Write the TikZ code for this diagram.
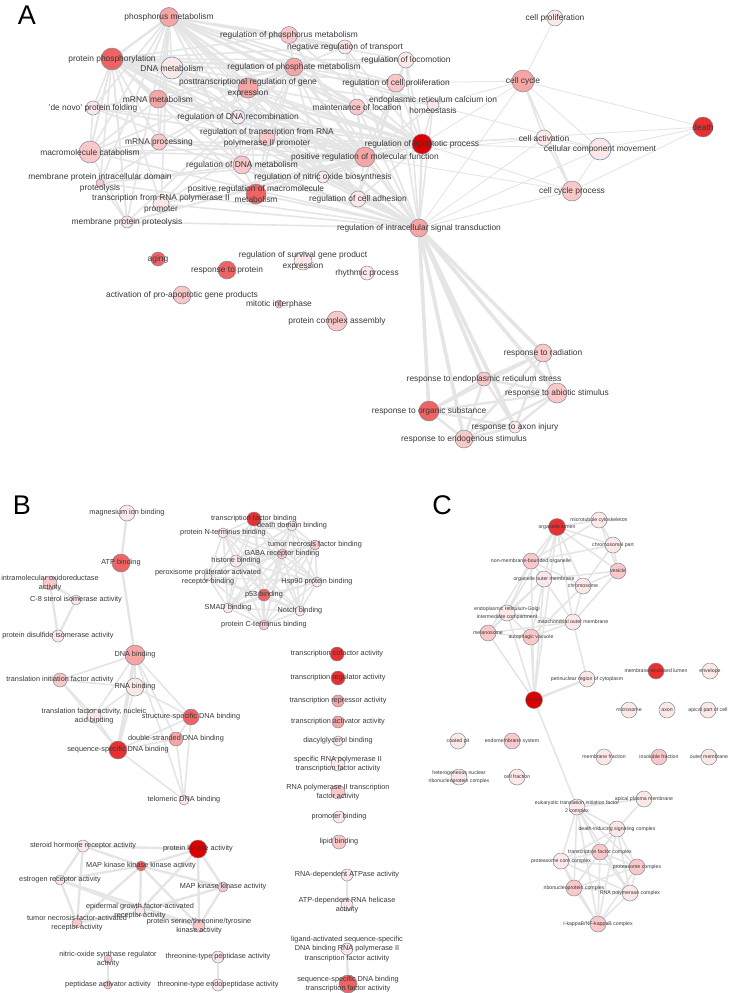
\documentclass[tikz,border=0pt]{standalone}
\usepackage{fontspec}
\setmainfont{Liberation Sans}
\usetikzlibrary{backgrounds}

\definecolor{rim}{RGB}{128,140,155}
\definecolor{rimblue}{RGB}{95,130,175}
\definecolor{txt}{RGB}{55,55,55}
\definecolor{lnkgray}{RGB}{229,229,229}
\definecolor{pinkA}{RGB}{253,232,232}
\definecolor{pinkB}{RGB}{250,200,200}
\definecolor{pinkC}{RGB}{246,165,165}
\definecolor{pinkD}{RGB}{238,100,100}
\definecolor{pinkE}{RGB}{232,48,48}
\definecolor{pinkF}{RGB}{222,0,0}

\tikzset{
  gn/.style={circle, draw=rim, line width=0.5pt, inner sep=0pt},
  bluerim/.style={draw=rimblue},
  lv0/.style={fill=pinkA},
  lv1/.style={fill=pinkB},
  lv2/.style={fill=pinkC},
  lv3/.style={fill=pinkD},
  lv4/.style={fill=pinkE},
  lv5/.style={fill=pinkF},
  lbA/.style={font=\fontsize{8.4}{10.5}\selectfont, text=txt, align=center, inner sep=0pt},
  lbB/.style={font=\fontsize{7.3}{9.5}\selectfont, text=txt, align=center, inner sep=0pt},
  lbC/.style={font=\fontsize{5.2}{8}\selectfont, text=txt, align=center, inner sep=0pt},
  lnk/.style={draw=lnkgray, line width=1.6pt},
  lnkthin/.style={lnk, line width=0.9pt},
  lnkmid/.style={lnk, line width=2.4pt},
  lnkthick/.style={lnk, line width=3.6pt},
  paneltag/.style={font=\fontsize{27}{27}\selectfont, inner sep=0pt}
}

% every pair of a list of nodes
\newcommand{\fullmesh}[2]{%
  \foreach \na [count=\i] in {#2} {
    \foreach \nb [count=\j] in {#2} {
      \ifnum\i<\j \draw[#1] (\na) -- (\nb); \fi
    }
  }%
}

\begin{document}
\begin{tikzpicture}[x=1pt, y=-1pt]
\useasboundingbox (0,0) rectangle (732,993);

% ---------------- panel A ----------------
\node[paneltag] (tagA) at (27,15) {A};
\node[gn, lv2, minimum size=19pt, label={[lbA]center:phosphorus metabolism}] (phos) at (169,17) {};
\node[gn, lv1, minimum size=17pt, label={[lbA]center:regulation of phosphorus metabolism}] (regphos) at (289,35) {};
\node[gn, lv0, minimum size=14pt, label={[lbA]center:negative regulation of transport}] (negtrans) at (345,47) {};
\node[gn, lv3, minimum size=22pt, label={[lbA]center:protein phosphorylation}] (protphos) at (112,59) {};
\node[gn, lv0, bluerim, minimum size=22pt, label={[lbA]center:DNA metabolism}] (dnamet) at (172,68) {};
\node[gn, lv2, minimum size=18pt, label={[lbA]center:regulation of phosphate metabolism}] (regphate) at (294,67) {};
\node[gn, lv2, minimum size=20pt, label={[lbA]center:posttranscriptional regulation of gene\\expression}] (posttrans) at (248,88) {};
\node[gn, lv2, minimum size=18pt, label={[lbA]center:mRNA metabolism}] (mrnamet) at (158,99) {};
\node[gn, lv0, minimum size=14pt, label={[lbA]center:'de novo' protein folding}] (denovo) at (93,108) {};
\node[gn, lv0, bluerim, minimum size=14pt, label={[lbA]center:regulation of DNA recombination}] (regdnarec) at (238,117) {};
\node[gn, lv1, minimum size=16pt, label={[lbA]center:regulation of transcription from RNA\\polymerase II promoter}] (regtrans) at (267,138) {};
\node[gn, lv1, minimum size=16pt, label={[lbA]center:mRNA processing}] (mrnaproc) at (159,142) {};
\node[gn, lv1, minimum size=22pt, label={[lbA]center:macromolecule catabolism}] (macrocat) at (90,152) {};
\node[gn, lv1, minimum size=18pt, label={[lbA]center:regulation of DNA metabolism}] (regdnamet) at (242,165) {};
\node[gn, lv1, minimum size=8pt, label={[lbA]center:membrane protein intracellular domain\\proteolysis}] (memintra) at (100,183) {};
\node[gn, lv3, minimum size=20pt, label={[lbA]center:positive regulation of macromolecule\\metabolism}] (posmacro) at (256,194) {};
\node[gn, lv0, minimum size=16pt, label={[lbA]center:transcription from RNA polymerase II\\promoter}] (transpol) at (161,204) {};
\node[gn, lv0, minimum size=12pt, label={[lbA]center:membrane protein proteolysis}] (memprot) at (127,222) {};
\node[gn, lv3, minimum size=14pt, label={[lbA]center:aging}] (aging) at (158,259) {};
\node[gn, lv3, minimum size=18pt, label={[lbA]center:response to protein}] (resprot) at (227,270) {};
\node[gn, lv0, minimum size=18pt, label={[lbA]center:regulation of survival gene product\\expression}] (regsurv) at (303,261) {};
\node[gn, lv1, minimum size=18pt, label={[lbA]center:activation of pro-apoptotic gene products}] (actpro) at (182,295) {};
\node[gn, lv1, minimum size=8pt, label={[lbA]center:mitotic interphase}] (mitint) at (279,304) {};
\node[gn, lv1, minimum size=20pt, label={[lbA]center:protein complex assembly}] (protcomp) at (337,321) {};
\node[gn, lv0, minimum size=14pt, label={[lbA]center:rhythmic process}] (rhythm) at (367,273) {};
\node[gn, lv0, minimum size=16pt, label={[lbA]center:cell proliferation}] (cellprolif) at (555,18) {};
\node[gn, lv0, minimum size=16pt, label={[lbA]center:regulation of locomotion}] (regloc) at (406,60) {};
\node[gn, lv1, minimum size=18pt, label={[lbA]center:regulation of cell proliferation}] (regprolif) at (396,83) {};
\node[gn, lv2, minimum size=22pt, label={[lbA]center:cell cycle}] (cellcycle) at (523,81) {};
\node[gn, lv0, minimum size=12pt, label={[lbA]center:endoplasmic reticulum calcium ion\\homeostasis}] (erca) at (433,105) {};
\node[gn, lv1, minimum size=16pt, label={[lbA]center:maintenance of location}] (mainloc) at (357,107) {};
\node[gn, lv4, minimum size=20pt, label={[lbA]center:death}] (death) at (703,127) {};
\node[gn, lv0, minimum size=16pt, label={[lbA]center:cell activation}] (cellact) at (544,138) {};
\node[gn, lv5, minimum size=20pt, label={[lbA]center:regulation of apoptotic process}] (regapop) at (422,144) {};
\node[gn, lv0, bluerim, minimum size=22pt, label={[lbA]center:cellular component movement}] (cellmove) at (600,149) {};
\node[gn, lv2, minimum size=20pt, label={[lbA]center:positive regulation of molecular function}] (posmol) at (365,157) {};
\node[gn, lv0, bluerim, minimum size=12pt, label={[lbA]center:regulation of nitric oxide biosynthesis}] (regnitric) at (323,177) {};
\node[gn, lv0, minimum size=16pt, label={[lbA]center:regulation of cell adhesion}] (regadh) at (358,199) {};
\node[gn, lv1, minimum size=20pt, label={[lbA]center:cell cycle process}] (ccproc) at (572,191) {};
\node[gn, lv2, minimum size=18pt, label={[lbA]center:regulation of intracellular signal transduction}] (regsig) at (419,228) {};
\node[gn, lv1, minimum size=18pt, label={[lbA]center:response to radiation}] (resrad) at (543,353) {};
\node[gn, lv1, minimum size=14pt, label={[lbA]center:response to endoplasmic reticulum stress}] (resER) at (484,379) {};
\node[gn, lv1, minimum size=20pt, label={[lbA]center:response to abiotic stimulus}] (resabio) at (557,393) {};
\node[gn, lv3, minimum size=20pt, label={[lbA]center:response to organic substance}] (resorg) at (429,411) {};
\node[gn, lv0, minimum size=12pt, label={[lbA]center:response to axon injury}] (resaxon) at (515,427) {};
\node[gn, lv1, minimum size=18pt, label={[lbA]center:response to endogenous stimulus}] (resendo) at (464,439) {};

% ---------------- panel B ----------------
\node[paneltag] (tagB) at (22,505) {B};
\node[gn, lv0, minimum size=16pt, label={[lbB]center:magnesium ion binding}] (magion) at (127,513) {};
\node[gn, lv3, minimum size=18pt, label={[lbB]center:ATP binding}] (atp) at (121,563) {};
\node[gn, lv1, minimum size=14pt, label={[lbB]center:intramolecular oxidoreductase\\activity}] (intramol) at (50,583) {};
\node[gn, lv0, minimum size=10pt, label={[lbB]center:C-8 sterol isomerase activity}] (csterol) at (76,600) {};
\node[gn, lv0, minimum size=12pt, label={[lbB]center:protein disulfide isomerase activity}] (pdi) at (58,636) {};
\node[gn, lv4, minimum size=14pt, label={[lbB]center:transcription factor binding}] (tfbind) at (254,519) {};
\node[gn, lv0, minimum size=10pt, label={[lbB]center:death domain binding}] (deathdom) at (292,526) {};
\node[gn, lv0, minimum size=10pt, label={[lbB]center:protein N-terminus binding}] (nterm) at (223,533) {};
\node[gn, lv1, minimum size=10pt, label={[lbB]center:tumor necrosis factor binding}] (tnfbind) at (315,545) {};
\node[gn, lv1, minimum size=10pt, label={[lbB]center:GABA receptor binding}] (gaba) at (282,554) {};
\node[gn, lv0, minimum size=12pt, label={[lbB]center:histone binding}] (histone) at (236,561) {};
\node[gn, lv0, minimum size=8pt, label={[lbB]center:peroxisome proliferator activated\\receptor binding}] (ppar) at (208,577) {};
\node[gn, lv0, minimum size=10pt, label={[lbB]center:Hsp90 protein binding}] (hsp90) at (317,582) {};
\node[gn, lv3, minimum size=12pt, label={[lbB]center:p53 binding}] (p53) at (264,595) {};
\node[gn, lv0, minimum size=10pt, label={[lbB]center:SMAD binding}] (smad) at (228,608) {};
\node[gn, lv0, minimum size=10pt, label={[lbB]center:Notch binding}] (notch) at (300,611) {};
\node[gn, lv1, minimum size=10pt, label={[lbB]center:protein C-terminus binding}] (cterm) at (264,625) {};
\node[gn, lv2, minimum size=20pt, label={[lbB]center:DNA binding}] (dnabind) at (135,655) {};
\node[gn, lv1, minimum size=14pt, label={[lbB]center:translation initiation factor activity}] (transinit) at (60,680) {};
\node[gn, lv0, minimum size=18pt, label={[lbB]center:RNA binding}] (rnabind) at (135,687) {};
\node[gn, lv0, minimum size=14pt, label={[lbB]center:{translation factor activity, nucleic\\acid binding}}] (transfac) at (94,716) {};
\node[gn, lv3, minimum size=16pt, label={[lbB]center:structure-specific DNA binding}] (structdna) at (191,717) {};
\node[gn, lv2, minimum size=14pt, label={[lbB]center:double-stranded DNA binding}] (dsdna) at (176,739) {};
\node[gn, lv4, minimum size=18pt, label={[lbB]center:sequence-specific DNA binding}] (seqdna) at (118,750) {};
\node[gn, lv0, minimum size=10pt, label={[lbB]center:telomeric DNA binding}] (telodna) at (184,800) {};
\node[gn, lv4, minimum size=14pt, label={[lbB]center:transcription cofactor activity}] (cofact) at (337,654) {};
\node[gn, lv4, minimum size=14pt, label={[lbB]center:transcription regulator activity}] (regact) at (338,678) {};
\node[gn, lv2, minimum size=12pt, label={[lbB]center:transcription repressor activity}] (repress) at (338,701) {};
\node[gn, lv2, minimum size=12pt, label={[lbB]center:transcription activator activity}] (activ) at (338,722) {};
\node[gn, lv0, minimum size=10pt, label={[lbB]center:diacylglycerol binding}] (diacyl) at (338,741) {};
\node[gn, lv0, minimum size=14pt, label={[lbB]center:specific RNA polymerase II\\transcription factor activity}] (specpol) at (338,764) {};
\node[gn, lv1, minimum size=14pt, label={[lbB]center:RNA polymerase II transcription\\factor activity}] (polII) at (338,792) {};
\node[gn, lv0, minimum size=12pt, label={[lbB]center:promoter binding}] (promoter) at (339,817) {};
\node[gn, lv1, minimum size=14pt, label={[lbB]center:lipid binding}] (lipid) at (339,842) {};
\node[gn, lv0, minimum size=12pt, label={[lbB]center:RNA-dependent ATPase activity}] (rnadep) at (347,875) {};
\node[gn, lv0, minimum size=12pt, label={[lbB]center:ATP-dependent RNA helicase\\activity}] (atpdep) at (347,905) {};
\node[gn, lv0, minimum size=12pt, label={[lbB]center:ligand-activated sequence-specific\\DNA binding RNA polymerase II\\transcription factor activity}] (ligand) at (347,949) {};
\node[gn, lv3, minimum size=18pt, label={[lbB]center:sequence-specific DNA binding\\transcription factor activity}] (seqtf) at (348,984) {};
\node[gn, lv0, minimum size=12pt, label={[lbB]center:steroid hormone receptor activity}] (steroid) at (83,846) {};
\node[gn, lv5, minimum size=18pt, label={[lbB]center:protein kinase activity}] (pkinase) at (198,849) {};
\node[gn, lv3, minimum size=10pt, label={[lbB]center:MAP kinase kinase kinase activity}] (mapkkk) at (141,866) {};
\node[gn, lv0, minimum size=10pt, label={[lbB]center:estrogen receptor activity}] (estrogen) at (60,880) {};
\node[gn, lv1, minimum size=10pt, label={[lbB]center:MAP kinase kinase activity}] (mapkk) at (223,887) {};
\node[gn, lv0, minimum size=10pt, label={[lbB]center:epidermal growth factor-activated\\receptor activity}] (egf) at (140,911) {};
\node[gn, lv1, minimum size=10pt, label={[lbB]center:tumor necrosis factor-activated\\receptor activity}] (tnfrec) at (77,923) {};
\node[gn, lv1, minimum size=12pt, label={[lbB]center:protein serine/threonine/tyrosine\\kinase activity}] (pser) at (199,926) {};
\node[gn, lv1, minimum size=8pt, label={[lbB]center:nitric-oxide synthase regulator\\activity}] (nitric) at (108,959) {};
\node[gn, lv1, minimum size=8pt, label={[lbB]center:peptidase activator activity}] (peptact) at (108,985) {};
\node[gn, lv0, minimum size=12pt, label={[lbB]center:threonine-type peptidase activity}] (thrpep) at (218,957) {};
\node[gn, lv0, minimum size=12pt, label={[lbB]center:threonine-type endopeptidase activity}] (threndo) at (218,985) {};

% ---------------- panel C ----------------
\node[paneltag] (tagC) at (442,505) {C};
\node[gn, lv4, minimum size=17pt, label={[lbC]center:organelle lumen}] (lumen) at (557,527) {};
\node[gn, lv0, minimum size=16pt, label={[lbC]center:microtubule cytoskeleton}] (microtub) at (599,520) {};
\node[gn, lv0, minimum size=16pt, label={[lbC]center:chromosomal part}] (chrompart) at (613,545) {};
\node[gn, lv1, minimum size=16pt, label={[lbC]center:non-membrane-bounded organelle}] (nonmem) at (531,561) {};
\node[gn, lv1, minimum size=16pt, label={[lbC]center:vesicle}] (vesicle) at (618,571) {};
\node[gn, lv0, minimum size=16pt, label={[lbC]center:organelle outer membrane}] (orgouter) at (544,579) {};
\node[gn, lv0, minimum size=16pt, label={[lbC]center:chromosome}] (chromosome) at (583,586) {};
\node[gn, lv0, minimum size=16pt, label={[lbC]center:endoplasmic reticulum-Golgi\\intermediate compartment}] (ergolgi) at (507,613) {};
\node[gn, lv0, minimum size=16pt, label={[lbC]center:mitochondrial outer membrane}] (mito) at (573,622) {};
\node[gn, lv1, minimum size=16pt, label={[lbC]center:melanosome}] (melano) at (488,633) {};
\node[gn, lv1, minimum size=16pt, label={[lbC]center:autophagic vacuole}] (autoph) at (531,637) {};
\node[gn, lv0, minimum size=16pt, label={[lbC]center:perinuclear region of cytoplasm}] (perinuc) at (587,679) {};
\node[gn, lv4, minimum size=16pt, label={[lbC]center:membrane-enclosed lumen}] (memlumen) at (656,671) {};
\node[gn, lv0, minimum size=16pt, label={[lbC]center:envelope}] (envelope) at (710,671) {};
\node[gn, lv5, minimum size=17pt, label={[lbC]center:cytosol}] (cytosol) at (534,700) {};
\node[gn, lv0, minimum size=16pt, label={[lbC]center:microsome}] (microsome) at (629,710) {};
\node[gn, lv0, minimum size=16pt, label={[lbC]center:axon}] (axon) at (667,710) {};
\node[gn, lv0, minimum size=16pt, label={[lbC]center:apical part of cell}] (apical) at (708,710) {};
\node[gn, lv0, minimum size=16pt, label={[lbC]center:coated pit}] (coated) at (458,741) {};
\node[gn, lv1, minimum size=16pt, label={[lbC]center:endomembrane system}] (endomem) at (512,741) {};
\node[gn, lv0, minimum size=16pt, label={[lbC]center:membrane fraction}] (memfrac) at (604,757) {};
\node[gn, lv1, minimum size=16pt, label={[lbC]center:insoluble fraction}] (insol) at (659,757) {};
\node[gn, lv0, minimum size=16pt, label={[lbC]center:outer membrane}] (outermem) at (709,757) {};
\node[gn, lv0, minimum size=16pt, label={[lbC]center:heterogeneous nuclear\\ribonucleoprotein complex}] (hnrnp) at (459,777) {};
\node[gn, lv0, minimum size=16pt, label={[lbC]center:cell fraction}] (cellfrac) at (517,777) {};
\node[gn, lv0, minimum size=16pt, label={[lbC]center:eukaryotic translation initiation factor\\2 complex}] (euk) at (577,807) {};
\node[gn, lv0, minimum size=16pt, label={[lbC]center:apical plasma membrane}] (apicalpm) at (644,799) {};
\node[gn, lv0, minimum size=16pt, label={[lbC]center:death-inducing signaling complex}] (disc) at (617,829) {};
\node[gn, lv1, minimum size=16pt, label={[lbC]center:transcription factor complex}] (tfcomp) at (600,852) {};
\node[gn, lv0, minimum size=16pt, label={[lbC]center:proteasome core complex}] (protcore) at (561,861) {};
\node[gn, lv1, minimum size=16pt, label={[lbC]center:proteasome complex}] (proteasome) at (637,867) {};
\node[gn, lv1, minimum size=16pt, label={[lbC]center:ribonucleoprotein complex}] (ribonuc) at (574,888) {};
\node[gn, lv0, minimum size=16pt, label={[lbC]center:RNA polymerase complex}] (rnapol) at (630,893) {};
\node[gn, lv1, minimum size=16pt, label={[lbC]center:I-kappaB/NF-kappaB complex}] (ikb) at (598,924) {};

\begin{scope}[on background layer]
% A: main cluster
\foreach \na in {regphos,negtrans,dnamet,posttrans,mrnamet,denovo,regdnarec,regtrans,mrnaproc,macrocat,regdnamet,memintra,posmacro,transpol,memprot,regloc,regprolif,erca,mainloc,regnitric,regadh}
  \foreach \nb in {phos,protphos,regphate,posmol,regsig,regapop}
    \draw[lnk] (\na) -- (\nb);
\fullmesh{lnkmid}{phos,protphos,regphate,posmol,regsig,regapop}
\foreach \na/\nb in {macrocat/mrnaproc,macrocat/mrnamet,macrocat/memprot,memprot/memintra,mrnamet/mrnaproc,regtrans/transpol,posttrans/regtrans,regdnarec/regdnamet,dnamet/regdnamet,dnamet/regdnarec,regphos/regphate,regphos/negtrans,regloc/regprolif,regloc/regadh,regprolif/regadh,posmacro/regtrans,posmacro/posttrans,denovo/macrocat,protphos/memprot,protphos/macrocat}
  \draw[lnk] (\na) -- (\nb);
% A: cell cycle side
\foreach \na/\nb in {cellcycle/cellprolif,cellcycle/regprolif,cellcycle/death,cellcycle/cellmove,cellcycle/regsig,cellcycle/regapop,cellcycle/erca,death/regapop,death/cellmove,death/ccproc,cellact/regapop,cellact/cellmove,cellact/regsig,cellmove/regapop,cellmove/erca,cellmove/ccproc,cellmove/regsig,ccproc/regsig,ccproc/regapop,ccproc/posmol,cellact/posmol}
  \draw[lnkthin] (\na) -- (\nb);
\draw[lnk] (cellcycle) -- (ccproc);
\draw[lnk] (cellcycle) -- (cellact);
\draw[lnk] (cellact) -- (ccproc);
% A: responses
\foreach \nb in {resrad,resER,resabio,resorg,resaxon,resendo}
  \draw[lnkthick] (regsig) -- (\nb);
\fullmesh{lnkmid}{resrad,resER,resabio,resorg,resaxon,resendo}

% B
\draw[lnkmid] (magion) -- (atp);
\draw[lnkmid] (atp) -- (dnabind);
\fullmesh{lnkmid}{intramol,csterol,pdi}
\fullmesh{lnk}{tfbind,deathdom,nterm,tnfbind,gaba,histone,ppar,hsp90,p53,smad,notch,cterm}
\foreach \na/\nb in {dnabind/transinit,dnabind/transfac,dnabind/structdna,dnabind/dsdna,dnabind/telodna,transinit/rnabind,transinit/transfac,transinit/seqdna,rnabind/structdna,rnabind/seqdna,rnabind/transfac,transfac/seqdna,structdna/dsdna,structdna/seqdna,structdna/telodna,dsdna/seqdna,dsdna/telodna,seqdna/telodna}
  \draw[lnk] (\na) -- (\nb);
\draw[lnkthick] (dnabind) -- (seqdna);
\draw[lnkmid] (dnabind) -- (rnabind);
\foreach \na/\nb in {steroid/estrogen,steroid/tnfrec,steroid/mapkkk,steroid/pkinase,mapkkk/pkinase,mapkkk/estrogen,mapkkk/egf,mapkkk/mapkk,mapkkk/pser,mapkkk/tnfrec,pkinase/mapkk,pkinase/pser,pkinase/egf,estrogen/tnfrec,estrogen/egf,estrogen/pser,mapkk/egf,mapkk/pser,egf/tnfrec,egf/pser}
  \draw[lnkmid] (\na) -- (\nb);
\draw[lnkmid] (nitric) -- (peptact);
\draw[lnkmid] (thrpep) -- (threndo);
\draw[lnkmid] (rnadep) -- (atpdep);
\draw[lnkmid] (ligand) -- (seqtf);

% C
\foreach \na/\nb in {lumen/microtub,lumen/chrompart,lumen/nonmem,lumen/vesicle,lumen/chromosome,lumen/orgouter,lumen/mito,lumen/ergolgi,microtub/chrompart,microtub/vesicle,microtub/nonmem,chrompart/vesicle,chrompart/chromosome,chrompart/nonmem,vesicle/chromosome,vesicle/orgouter,vesicle/mito,nonmem/orgouter,nonmem/chromosome,nonmem/ergolgi,nonmem/melano,orgouter/mito,orgouter/ergolgi,orgouter/melano,orgouter/autoph,chromosome/mito,chromosome/autoph,ergolgi/melano,ergolgi/autoph,ergolgi/mito,melano/autoph,mito/autoph,mito/melano}
  \draw[lnk] (\na) -- (\nb);
\foreach \nb in {lumen,nonmem,ergolgi,melano,autoph,orgouter,euk}
  \draw[lnk] (cytosol) -- (\nb);
\draw[lnkmid] (cytosol) -- (perinuc);
\draw[lnk] (perinuc) -- (mito);
\fullmesh{lnk}{euk,disc,tfcomp,protcore,proteasome,ribonuc,rnapol,ikb}
\draw[lnk] (euk) -- (apicalpm);
\draw[lnk] (apicalpm) -- (disc);
\end{scope}
\end{tikzpicture}
\end{document}
